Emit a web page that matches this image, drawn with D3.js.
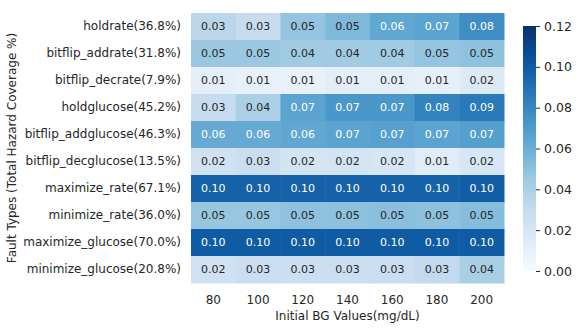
<!DOCTYPE html>
<html>
<head>
<meta charset="utf-8">
<script src="https://cdn.jsdelivr.net/npm/d3@7"></script>
<style>
  body { margin: 0; background: #fff; }
  text { font-family: "DejaVu Sans", sans-serif; fill: #262626; }
</style>
</head>
<body>
<svg id="heat" width="581" height="331"></svg>
<script>
// data
var faultTypes = ["holdrate(36.8%)", "bitflip_addrate(31.8%)", "bitflip_decrate(7.9%)",
    "holdglucose(45.2%)", "bitflip_addglucose(46.3%)", "bitflip_decglucose(13.5%)",
    "maximize_rate(67.1%)", "minimize_rate(36.0%)", "maximize_glucose(70.0%)", "minimize_glucose(20.8%)"];
var bgValues = [80, 100, 120, 140, 160, 180, 200];
var holdrate = [0.034, 0.029, 0.048, 0.054, 0.064, 0.066, 0.077];
var bitflipAddrate = [0.046, 0.046, 0.044, 0.044, 0.044, 0.048, 0.050];
var bitflipDecrate = [0.011, 0.009, 0.009, 0.012, 0.012, 0.010, 0.016];
var holdglucose = [0.029, 0.040, 0.066, 0.072, 0.072, 0.082, 0.086];
var bitflipAddglucose = [0.062, 0.062, 0.064, 0.066, 0.067, 0.066, 0.068];
var bitflipDecglucose = [0.024, 0.027, 0.022, 0.022, 0.020, 0.014, 0.020];
var maximizeRate = [0.097, 0.097, 0.097, 0.097, 0.097, 0.097, 0.099];
var minimizeRate = [0.047, 0.047, 0.050, 0.050, 0.051, 0.050, 0.052];
var maximizeGlucose = [0.100, 0.100, 0.100, 0.100, 0.100, 0.100, 0.100];
var minimizeGlucose = [0.024, 0.027, 0.026, 0.026, 0.027, 0.031, 0.041];
var colorbarTicks = [0.00, 0.02, 0.04, 0.06, 0.08, 0.10, 0.12];

var rows = [holdrate, bitflipAddrate, bitflipDecrate, holdglucose, bitflipAddglucose,
    bitflipDecglucose, maximizeRate, minimizeRate, maximizeGlucose, minimizeGlucose];

var svg = d3.select("#heat");

// heatmap box
var boxLeft = 191, boxRight = 504, boxTop = 13, boxBottom = 283;

var x = d3.scaleBand().domain(bgValues).range([boxLeft, boxRight]);
var y = d3.scaleBand().domain(faultTypes).range([boxTop, boxBottom]);

// matplotlib Blues = linear through the colorbrewer stops
var blues = ["#f7fbff", "#deebf7", "#c6dbef", "#9ecae1", "#6baed6", "#4292c6", "#2171b5", "#08519c", "#08306b"];
var vmax = 0.12;
var color = d3.scaleLinear()
    .domain(blues.map(function (d, i) { return i / (blues.length - 1) * vmax; }))
    .range(blues)
    .clamp(true);

var cells = [];
rows.forEach(function (r, i) {
    r.forEach(function (v, j) {
        cells.push({ row: faultTypes[i], col: bgValues[j], value: v });
    });
});

svg.append("g").selectAll("rect")
    .data(cells)
    .enter()
    .append("rect")
    .attr("x", function (d) { return x(d.col); })
    .attr("y", function (d) { return y(d.row); })
    .attr("width", x.bandwidth() + 0.5)
    .attr("height", y.bandwidth() + 0.5)
    .attr("fill", function (d) { return color(d.value); });

// annotations, white on dark cells like seaborn does
function luminance(c) {
    var rgb = d3.rgb(c);
    var f = function (u) { u = u / 255; return u <= 0.03928 ? u / 12.92 : Math.pow((u + 0.055) / 1.055, 2.4); };
    return 0.2126 * f(rgb.r) + 0.7152 * f(rgb.g) + 0.0722 * f(rgb.b);
}

svg.append("g").selectAll("text")
    .data(cells)
    .enter()
    .append("text")
    .attr("x", function (d) { return x(d.col) + x.bandwidth() / 2; })
    .attr("y", function (d) { return y(d.row) + y.bandwidth() / 2; })
    .attr("dy", "0.36em")
    .attr("text-anchor", "middle")
    .attr("font-size", "11px")
    .style("fill", function (d) { return luminance(color(d.value)) > 0.408 ? "#262626" : "#ffffff"; })
    .text(function (d) { return d3.format(".2f")(d.value); });

// axes without tick marks
var xAxis = svg.append("g")
    .attr("transform", "translate(0," + boxBottom + ")")
    .call(d3.axisBottom(x).tickSize(0).tickPadding(12));
var yAxis = svg.append("g")
    .attr("transform", "translate(" + boxLeft + ",0)")
    .call(d3.axisLeft(y).tickSize(0).tickPadding(10));
[xAxis, yAxis].forEach(function (a) {
    a.select(".domain").remove();
    a.selectAll("text").attr("font-size", "12px").attr("font-family", "DejaVu Sans");
});

svg.append("text")
    .attr("x", (boxLeft + boxRight) / 2)
    .attr("y", 320)
    .attr("text-anchor", "middle")
    .attr("font-size", "12px")
    .text("Initial BG Values(mg/dL)");

svg.append("text")
    .attr("transform", "translate(16," + (boxTop + boxBottom) / 2 + ") rotate(-90)")
    .attr("text-anchor", "middle")
    .attr("font-size", "12px")
    .text("Fault Types (Total Hazard Coverage %)");

// colorbar
var cbLeft = 523, cbWidth = 13, cbTop = 26, cbBottom = 271;
var cb = d3.scaleLinear().domain([0, vmax]).range([cbBottom, cbTop]);

var grad = svg.append("defs").append("linearGradient")
    .attr("id", "cbgrad")
    .attr("x1", 0).attr("y1", 1).attr("x2", 0).attr("y2", 0);
grad.selectAll("stop")
    .data(blues)
    .enter()
    .append("stop")
    .attr("offset", function (d, i) { return i / (blues.length - 1); })
    .attr("stop-color", function (d) { return d; });

svg.append("rect")
    .attr("x", cbLeft)
    .attr("y", cbTop)
    .attr("width", cbWidth)
    .attr("height", cbBottom - cbTop)
    .attr("fill", "url(#cbgrad)");

var cbAxis = svg.append("g")
    .attr("transform", "translate(" + (cbLeft + cbWidth) + ",0)")
    .call(d3.axisRight(cb).tickValues(colorbarTicks).tickFormat(d3.format(".2f")).tickSize(4).tickPadding(4));
cbAxis.select(".domain").remove();
cbAxis.selectAll("line").attr("stroke", "#262626").attr("stroke-width", 1);
cbAxis.selectAll("text").attr("font-size", "12.5px").attr("font-family", "DejaVu Sans");
</script>
</body>
</html>
